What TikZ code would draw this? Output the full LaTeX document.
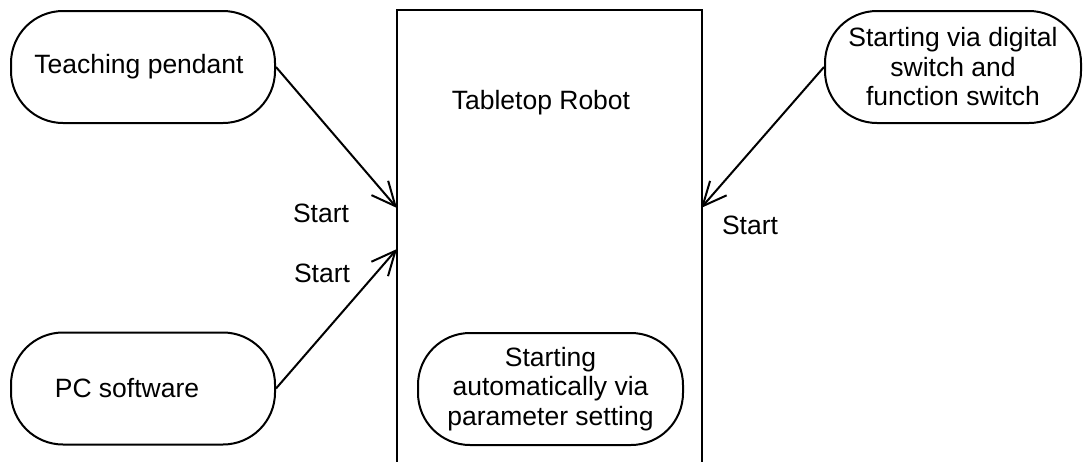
\documentclass[tikz,border=0pt]{standalone}
\usepackage{fontspec}
\setmainfont{Liberation Sans}
\usetikzlibrary{arrows.meta}
\begin{document}
\begin{tikzpicture}[x=1pt,y=-1pt, line width=2pt,
  every node/.style={font=\fontsize{26.5}{29.5}\selectfont, align=center, inner sep=0pt},
  stadium/.style={draw, rounded corners=52pt, minimum width=264pt, minimum height=112pt},
  conn/.style={-{Straight Barb[length=24pt,width=22pt]}}]
\useasboundingbox (0,0) rectangle (1084,461);
\node[stadium] (tp) at (143,67) {Teaching pendant\hspace*{8pt}};
\node[stadium] (pc) at (143,388.5) {PC software\hspace*{32pt}};
\node[stadium, minimum width=256pt] (ds) at (953,67) {Starting via digital\\switch and\\function switch};
\node[minimum width=303pt, minimum height=451pt, anchor=north west] (robot) at (397,10) {};
\draw (robot.south west) |- (robot.north east) -- (robot.south east);
\node (title) at (541,103) {Tabletop Robot};
\node[stadium, minimum width=265pt] (auto) at (550.5,389) {Starting\\automatically via\\parameter setting};
\coordinate (in1) at (397,208);
\coordinate (in2) at (397,249);
\coordinate (in3) at (701,208);
\draw[conn] (tp.east) -- (in1);
\draw[conn] (pc.east) -- (in2);
\draw[conn] (ds.west) -- (in3);
\node (s1) at (321,213) {Start};
\node (s2) at (322,273) {Start};
\node (s3) at (750,225) {Start};
\end{tikzpicture}
\end{document}
